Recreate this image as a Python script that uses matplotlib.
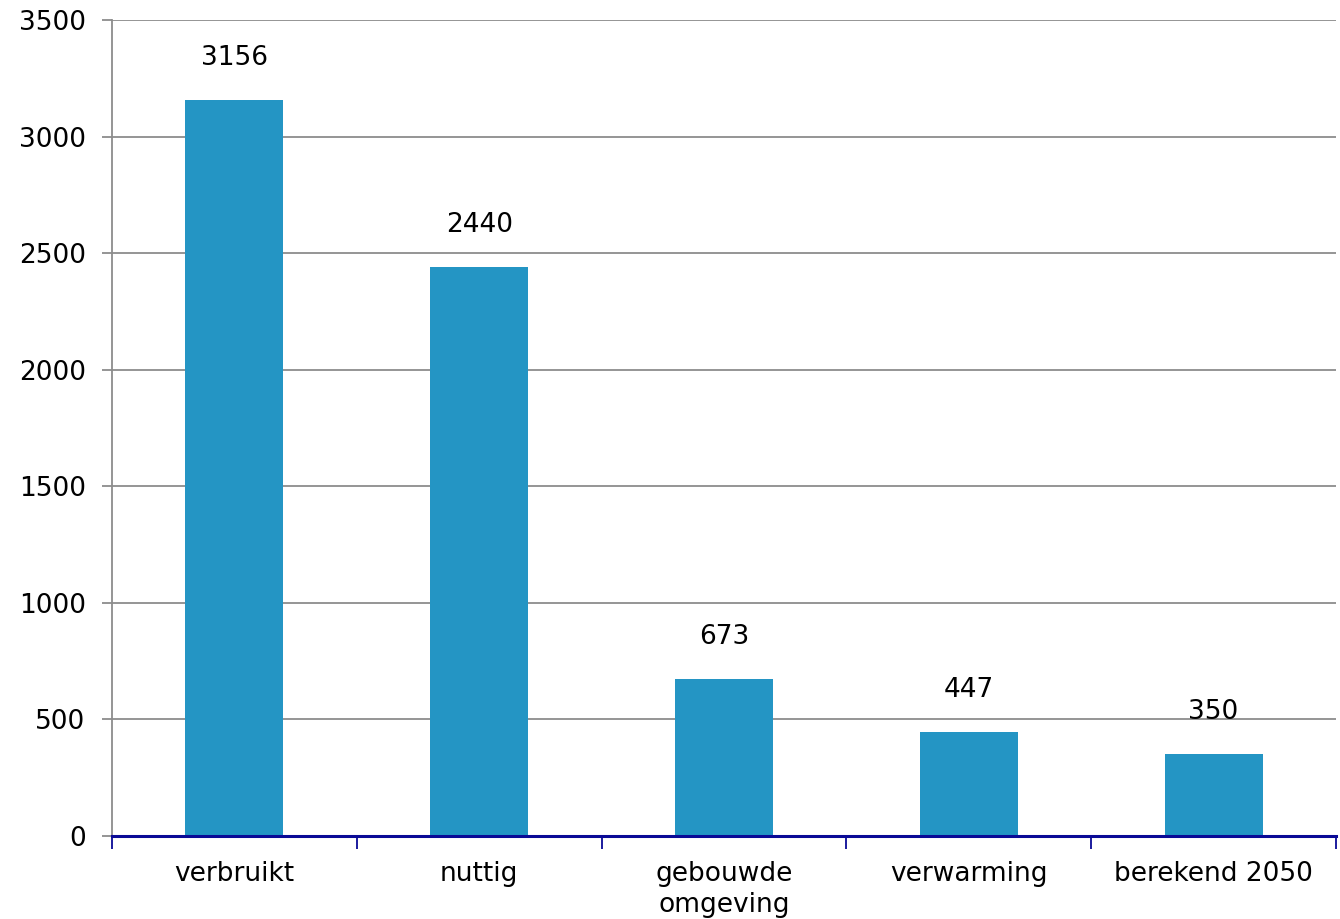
import matplotlib.pyplot as plt
import numpy as np

categories = ["verbruikt", "nuttig", "gebouwde\nomgeving", "verwarming", "berekend 2050"]
values = [3156, 2440, 673, 447, 350]

bar_color = "#2495C4"
grid_color = "#8C8C8C"
axis_blue = "#0A0A96"

plt.rcParams['font.family'] = ['DejaVu Sans']

fig = plt.figure(figsize=(13.4, 9.19), dpi=100)
ax = fig.add_axes([0.0836, 0.0903, 0.9134, 0.8877])

x = np.arange(len(categories))
bars = ax.bar(x, values, width=0.4, color=bar_color, zorder=3)

# value labels above bars
for xi, v in zip(x, values):
    ax.text(xi, v + 125, str(v), ha="center", va="bottom", fontsize=19, color="black", zorder=4)

ax.set_xlim(-0.5, len(categories) - 0.5)
ax.set_ylim(0, 3500)
ax.set_yticks(np.arange(0, 3501, 500))
ax.yaxis.grid(True, color=grid_color, linewidth=1.3, zorder=0)

ax.set_xticks(x)
ax.set_xticklabels(categories, fontsize=19, linespacing=1.25)
ax.set_xticks(np.arange(-0.5, len(categories)), minor=True)
ax.tick_params(axis="x", which="major", length=0, pad=18)
ax.tick_params(axis="x", which="minor", length=9, color=axis_blue, width=1.3, direction="out")
ax.tick_params(axis="y", length=7, color=grid_color, width=1.3, pad=12, labelsize=19)

for side in ["top", "right"]:
    ax.spines[side].set_visible(False)
ax.spines["left"].set_color(grid_color)
ax.spines["left"].set_linewidth(1.3)
ax.spines["bottom"].set_color(axis_blue)
ax.spines["bottom"].set_linewidth(2.2)
ax.spines["bottom"].set_zorder(5)

fig.savefig("out.png", dpi=100)
